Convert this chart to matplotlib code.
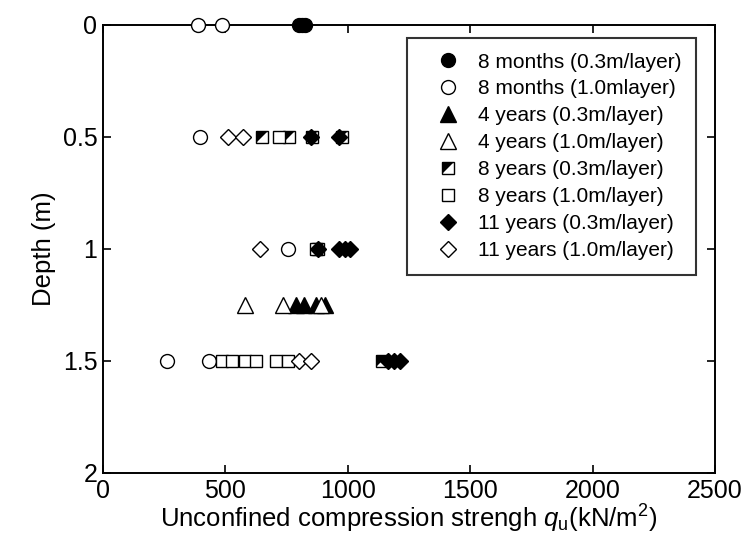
import matplotlib
matplotlib.use("Agg")
import matplotlib.pyplot as plt
from matplotlib.path import Path

plt.rcParams['font.family'] = ['Liberation Sans', 'DejaVu Sans']
plt.rcParams['mathtext.fontset'] = 'custom'
plt.rcParams['mathtext.rm'] = 'Liberation Sans'
plt.rcParams['mathtext.it'] = 'Liberation Sans:italic'

# Unconfined compression strength (kN/m^2) by depth (m) for each series
m8_03_q = [800, 812, 825]
m8_03_d = [0, 0, 0]
m8_10_q = [388, 486, 396, 754, 262, 434]
m8_10_d = [0, 0, 0.5, 1.0, 1.5, 1.5]
y4_03_q = [790, 820, 870, 905]
y4_03_d = [1.25, 1.25, 1.25, 1.25]
y4_10_q = [580, 735, 890]
y4_10_d = [1.25, 1.25, 1.25]
y8_03_q = [650, 760, 855, 975, 880, 1140]
y8_03_d = [0.5, 0.5, 0.5, 0.5, 1.0, 1.5]
y8_10_q = [720, 870, 488, 529, 582, 623, 705, 754]
y8_10_d = [0.5, 1.0, 1.5, 1.5, 1.5, 1.5, 1.5, 1.5]
y11_03_q = [850, 965, 880, 965, 990, 1010, 1165, 1190, 1215]
y11_03_d = [0.5, 0.5, 1.0, 1.0, 1.0, 1.0, 1.5, 1.5, 1.5]
y11_10_q = [510, 570, 643, 800, 848]
y11_10_d = [0.5, 0.5, 1.0, 1.5, 1.5]

labels = ["8 months (0.3m/layer)", "8 months (1.0mlayer)",
          "4 years (0.3m/layer)", "4 years (1.0m/layer)",
          "8 years (0.3m/layer)", "8 years (1.0m/layer)",
          "11 years (0.3m/layer)", "11 years (1.0m/layer)"]

W, H = 745, 546
fig = plt.figure(figsize=(W / 100, H / 100), dpi=100)
ax = fig.add_axes([103 / W, 1 - 473 / H, (715 - 103) / W, (473 - 25) / H])

ms = 10
kw = dict(linestyle='none', markeredgecolor='black', markeredgewidth=1.0, clip_on=False, zorder=3)

h1, = ax.plot(m8_03_q, m8_03_d, marker='o', markersize=ms, markerfacecolor='black', **kw)
h2, = ax.plot(m8_10_q, m8_10_d, marker='o', markersize=ms, markerfacecolor='white', **kw)
h3, = ax.plot(y4_03_q, y4_03_d, marker='^', markersize=ms + 1, markerfacecolor='black', **kw)
h4, = ax.plot(y4_10_q, y4_10_d, marker='^', markersize=ms + 1, markerfacecolor='white', **kw)

# half-filled square: open square with a filled upper-left triangle
tri = Path([(-1, -1), (-1, 1), (1, 1), (-1, -1)], [Path.MOVETO, Path.LINETO, Path.LINETO, Path.CLOSEPOLY])
h5a, = ax.plot(y8_03_q, y8_03_d, marker='s', markersize=ms - 1, markerfacecolor='white', **kw)
h5b, = ax.plot(y8_03_q, y8_03_d, marker=tri, markersize=ms - 1, markerfacecolor='black',
               markeredgewidth=0, linestyle='none', clip_on=False, zorder=3)
h6, = ax.plot(y8_10_q, y8_10_d, marker='s', markersize=ms - 1, markerfacecolor='white', **kw)
h7, = ax.plot(y11_03_q, y11_03_d, marker='D', markersize=ms - 1.5, markerfacecolor='black', **kw)
h8, = ax.plot(y11_10_q, y11_10_d, marker='D', markersize=ms - 1.5, markerfacecolor='white', **kw)

ax.set_xlim(0, 2500)
ax.set_ylim(2, 0)
ax.set_xticks([0, 500, 1000, 1500, 2000, 2500])
ax.set_yticks([0, 0.5, 1, 1.5, 2])
ax.set_yticklabels(["0", "0.5", "1", "1.5", "2"])
ax.tick_params(direction='in', top=True, right=True, length=6, width=1.2, labelsize=18, pad=4)
for s in ax.spines.values():
    s.set_linewidth(1.4)

ax.set_xlabel(r"Unconfined compression strengh $q_{\mathrm{u}}$(kN/m$^2$)", fontsize=18.5, labelpad=0)
ax.set_ylabel("Depth (m)", fontsize=18.5, labelpad=5)

leg = ax.legend([h1, h2, h3, h4, (h5a, h5b), h6, h7, h8], labels,
                loc='upper left', bbox_to_anchor=((407 - 103) / (715 - 103), 1 - (38 - 25) / (473 - 25)),
                fontsize=15, frameon=True, fancybox=False, edgecolor='black',
                borderpad=0.7, labelspacing=0.38, handletextpad=0.2, handlelength=2.5,
                borderaxespad=0)
leg.get_frame().set_linewidth(1.5)

fig.savefig("out.png", dpi=100)
